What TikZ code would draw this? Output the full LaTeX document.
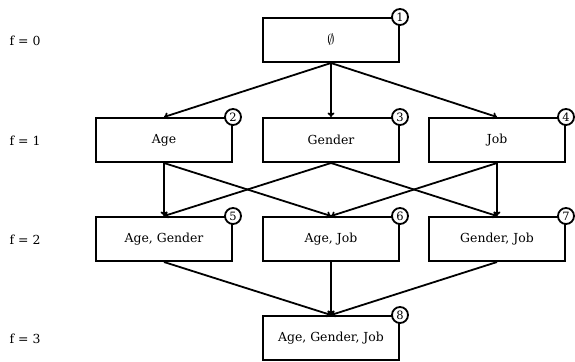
\documentclass[tikz,border=0pt]{standalone}
\usepackage{fontspec}
\setmainfont{DejaVu Serif}
\usetikzlibrary{arrows.meta}
\begin{document}
\begin{tikzpicture}[x=1bp,y=-1bp,
  box/.style={draw,line width=2bp,minimum width=136bp,minimum height=44bp,inner sep=0pt,font=\fontsize{12.5}{14}\selectfont},
  num/.style={draw,circle,fill=white,line width=1.8bp,minimum size=16bp,inner sep=0pt,font=\fontsize{11.5}{12}\selectfont},
  lvl/.style={font=\fontsize{12.5}{14}\selectfont},
  edge/.style={line width=1.8bp,-{To[length=4.5bp,width=7bp]}}]
\useasboundingbox (0,0) rectangle (575,361);
\node[box] (n1) at (331,40) {\fontsize{14}{16}\selectfont$\emptyset$};
\node[box] (n2) at (164,140) {Age};
\node[box] (n3) at (331,140) {Gender};
\node[box] (n4) at (497,140) {Job};
\node[box] (n5) at (164,239) {Age, Gender};
\node[box] (n6) at (331,239) {Age, Job};
\node[box] (n7) at (497,239) {Gender, Job};
\node[box] (n8) at (331,338) {Age, Gender, Job};
\foreach \i in {1,...,8}{
  \node[num] (c\i) at (n\i.north east) {\i};
}
\node[lvl] (l0) at (25,41) {f = 0};
\node[lvl] (l1) at (25,141) {f = 1};
\node[lvl] (l2) at (25,240) {f = 2};
\node[lvl] (l3) at (25,339) {f = 3};
\foreach \a/\b in {n1/n2,n1/n3,n1/n4,n2/n5,n2/n6,n3/n5,n3/n7,n4/n6,n4/n7,n5/n8,n6/n8,n7/n8}{
  \draw[edge] (\a.south) -- (\b.north);
}
\end{tikzpicture}
\end{document}
